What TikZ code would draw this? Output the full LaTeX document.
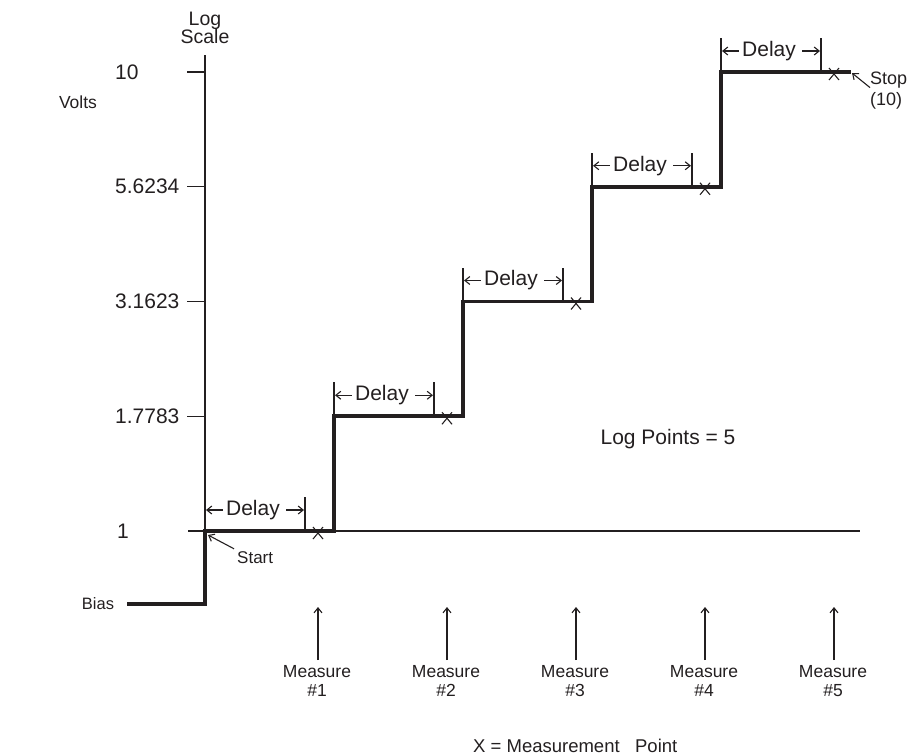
\documentclass[tikz,border=0pt]{standalone}
\usepackage{fontspec}
\setmainfont{Liberation Sans}
\usetikzlibrary{arrows.meta,calc}
\definecolor{ink}{HTML}{231F20}
\begin{document}
\begin{tikzpicture}[x=1pt,y=-1pt,
  thinline/.style={line width=1.1pt, draw=ink},
  stepline/.style={line width=3.6pt, draw=ink, line join=miter, line cap=butt},
  ptr/.style={line width=1.1pt, draw=ink, -{Straight Barb[length=5pt,width=8pt]}},
  big/.style={font=\fontsize{21}{23}\selectfont, text=ink, inner sep=0pt},
  mid/.style={font=\fontsize{17.5}{19.5}\selectfont, text=ink, inner sep=0pt},
  small/.style={font=\fontsize{16.5}{18}\selectfont, text=ink, inner sep=0pt},
]
\useasboundingbox (0,0) rectangle (910,755);
% axis
\coordinate (axtop) at (205,55);
\coordinate (axbot) at (205,531);
\draw[thinline] (axtop) -- (axbot);
\node[align=center, font=\fontsize{19.5}{18.5}\selectfont, text=ink, inner sep=0pt] (logscale) at (205,28) {Log\\Scale};
\node[small, font=\fontsize{17.5}{19}\selectfont] (volts) at (78,102) {Volts};
% baseline at 1
\coordinate (bl0) at (188,531);
\coordinate (bl1) at (860,531);
\draw[thinline] (bl0) -- (bl1);
% ticks and level labels
\foreach \i/\lab in {2/1.7783,3/3.1623,4/5.6234,5/10}{
  \pgfmathsetmacro\yy{531-(\i-1)*114.75}
  \coordinate (tka\i) at (187,\yy);
  \coordinate (tkb\i) at (204,\yy);
  \draw[thinline] (tka\i) -- (tkb\i);
  \node[big, anchor=west] (lev\i) at (115,\yy) {\lab};
}
\node[big, anchor=west] (lev1) at (117,531) {1};
% step waveform
\coordinate (b0) at (127,604);
\coordinate (b1) at (205,604);
\coordinate (s1a) at (205,531); \coordinate (s1b) at (334,531);
\coordinate (s2a) at (334,416.25); \coordinate (s2b) at (463,416.25);
\coordinate (s3a) at (463,301.5); \coordinate (s3b) at (592,301.5);
\coordinate (s4a) at (592,186.75); \coordinate (s4b) at (721,186.75);
\coordinate (s5a) at (721,72); \coordinate (s5b) at (851,72);
\draw[stepline] (b0) -- (b1) -- (s1a) -- (s1b) -- (s2a) -- (s2b) -- (s3a) -- (s3b) -- (s4a) -- (s4b) -- (s5a) -- (s5b);
\node[small] (bias) at (98,604) {Bias};
% delays, X marks, measure arrows
\foreach \i in {1,...,5}{
  \pgfmathsetmacro\xx{205+(\i-1)*129}
  \pgfmathsetmacro\yy{531-(\i-1)*114.75}
  \coordinate (dla\i) at (\xx,\yy);
  \coordinate (dlat\i) at (\xx,\yy-34);
  \coordinate (dlb\i) at (\xx+100,\yy);
  \coordinate (dlbt\i) at (\xx+100,\yy-34);
  \draw[thinline] (dla\i) -- (dlat\i);
  \draw[thinline] (dlb\i) -- (dlbt\i);
  \node[big] (delay\i) at (\xx+48,\yy-21) {Delay};
  \coordinate (dl\i) at (\xx+1,\yy-21);
  \coordinate (dr\i) at (\xx+99,\yy-21);
  \draw[ptr] (delay\i.west) ++(-3,0) coordinate (dlt\i) -- (dl\i);
  \draw[ptr] (delay\i.east) ++(6,0) coordinate (drt\i) -- (dr\i);
  % X mark
  \coordinate (xm\i) at (\xx+113,\yy+2);
  \draw[line width=1.1pt, draw=ink] ($(xm\i)+(-5,-6)$) -- ($(xm\i)+(5,6)$);
  \draw[line width=1.1pt, draw=ink] ($(xm\i)+(-5,6)$) -- ($(xm\i)+(5,-6)$);
  % measure
  \coordinate (mtip\i) at (\xx+113,607);
  \node[mid, align=center, anchor=north] (meas\i) at (\xx+112,665) {Measure\\\#\i};
  \draw[ptr] (meas\i.north) ++(1,-5) coordinate (mtail\i) -- (mtip\i);
}
% start / stop
\coordinate (starttip) at (208,535);
\node[small, font=\fontsize{17}{19}\selectfont, anchor=west] (start) at (237,558) {Start};
\draw[ptr] (start.north west) ++(-3,-3) coordinate (starttail) -- (starttip);
\coordinate (stoptip) at (852,73);
\node[align=left, anchor=north west, font=\fontsize{18}{20.5}\selectfont, text=ink, inner sep=0pt] (stop) at (870,72) {Stop\\(10)};
\draw[ptr] (stop.west) ++(0,-3) coordinate (stoptail) -- (stoptip);
% notes
\node[big] (logpts) at (668,439) {Log Points = 5};
\node[big, font=\fontsize{18.5}{20}\selectfont, anchor=west] (xnote) at (473,746) {X = Measurement\ \ \ Point};
\end{tikzpicture}
\end{document}
